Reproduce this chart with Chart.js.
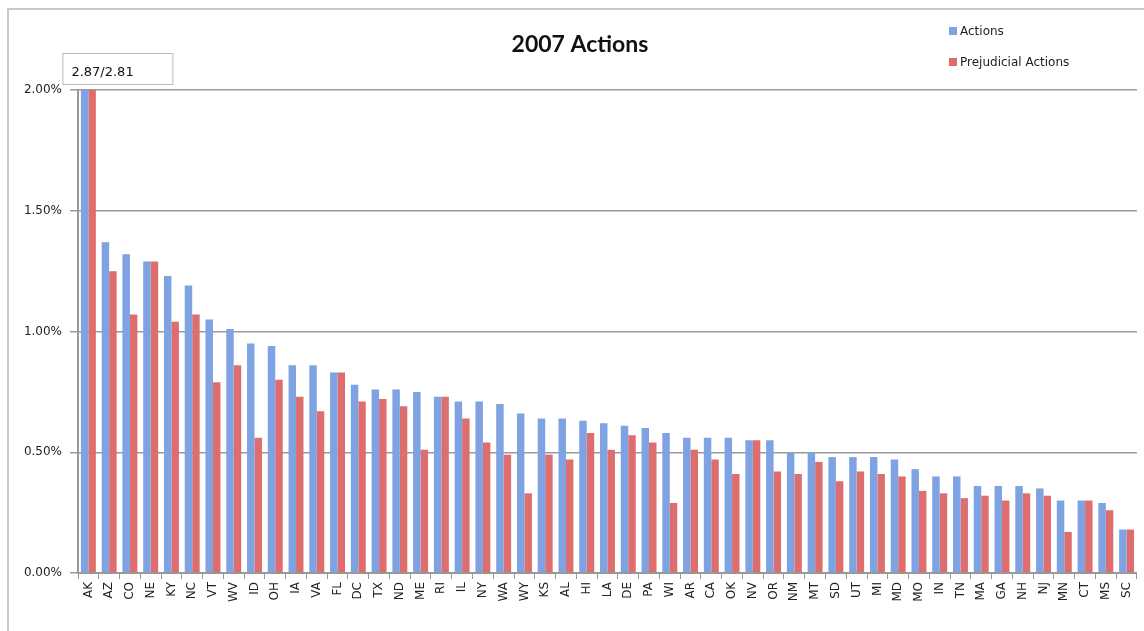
<!DOCTYPE html>
<html>
<head>
<meta charset="utf-8">
<script src="https://cdn.jsdelivr.net/npm/chart.js@4"></script>
<style>
  html, body { margin: 0; padding: 0; background: #fff; }
  #wrap { position: absolute; left: 7px; top: 8px; width: 1144px; height: 640px; border: 2px solid #c8c8c8; box-sizing: border-box; }
  #chart { position: absolute; left: 0; top: 0; }
</style>
</head>
<body>
<div id="wrap"></div>
<canvas id="chart" width="1144" height="631"></canvas>
<script>
const states = ['AK', 'AZ', 'CO', 'NE', 'KY', 'NC', 'VT', 'WV', 'ID', 'OH', 'IA', 'VA', 'FL', 'DC', 'TX', 'ND', 'ME',
    'RI', 'IL', 'NY', 'WA', 'WY', 'KS', 'AL', 'HI', 'LA', 'DE', 'PA', 'WI', 'AR', 'CA', 'OK', 'NV', 'OR', 'NM', 'MT',
    'SD', 'UT', 'MI', 'MD', 'MO', 'IN', 'TN', 'MA', 'GA', 'NH', 'NJ', 'MN', 'CT', 'MS', 'SC'];

const actions = [2.87, 1.37, 1.32, 1.29, 1.23, 1.19, 1.05, 1.01, 0.95, 0.94, 0.86, 0.86, 0.83, 0.78, 0.76, 0.76, 0.75,
    0.73, 0.71, 0.71, 0.70, 0.66, 0.64, 0.64, 0.63, 0.62, 0.61, 0.60, 0.58, 0.56, 0.56, 0.56, 0.55, 0.55, 0.50, 0.50,
    0.48, 0.48, 0.48, 0.47, 0.43, 0.40, 0.40, 0.36, 0.36, 0.36, 0.35, 0.30, 0.30, 0.29, 0.18];

const prejudicial = [2.81, 1.25, 1.07, 1.29, 1.04, 1.07, 0.79, 0.86, 0.56, 0.80, 0.73, 0.67, 0.83, 0.71, 0.72, 0.69, 0.51,
    0.73, 0.64, 0.54, 0.49, 0.33, 0.49, 0.47, 0.58, 0.51, 0.57, 0.54, 0.29, 0.51, 0.47, 0.41, 0.55, 0.42, 0.41, 0.46,
    0.38, 0.42, 0.41, 0.40, 0.34, 0.33, 0.31, 0.32, 0.30, 0.33, 0.32, 0.17, 0.30, 0.26, 0.18];

const yTicks = [0, 0.5, 1.0, 1.5, 2.0];

const chartTitle = '2007 Actions';

// title, legend and the clipped-value note for the first bar
const decorations = {
    id: 'decorations',
    afterDraw(chart) {
        const c = chart.ctx;
        c.save();
        c.fillStyle = '#111';
        c.font = 'bold 23px Lato, "Open Sans", sans-serif';
        c.textAlign = 'center';
        c.textBaseline = 'middle';
        c.fillText(chartTitle, 580, 45);

        c.font = '12px "DejaVu Sans", sans-serif';
        c.textAlign = 'left';
        chart.data.datasets.forEach((ds, i) => {
            const y = 32 + i * 31;
            c.fillStyle = ds.backgroundColor;
            c.fillRect(949, y - 5, 8, 8);
            c.fillStyle = '#222';
            c.fillText(ds.label, 960, y);
        });

        const x0 = chart.scales.x.getPixelForValue(0);
        const bx = x0 - 26, by = 53;
        c.fillStyle = '#fff';
        c.fillRect(bx, by, 110, 31);
        c.strokeStyle = '#bbb';
        c.lineWidth = 1;
        c.strokeRect(bx + 0.5, by + 0.5, 110, 31);
        c.fillStyle = '#111';
        c.font = '13px "DejaVu Sans", sans-serif';
        c.fillText(actions[0].toFixed(2) + '/' + prejudicial[0].toFixed(2), bx + 9, by + 20);
        c.restore();
    }
};

new Chart(document.getElementById('chart').getContext('2d'), {
    type: 'bar',
    data: {
        labels: states,
        datasets: [{
            label: 'Actions',
            data: actions,
            backgroundColor: '#7ea2e2',
            categoryPercentage: 0.72,
            barPercentage: 1.0
        }, {
            label: 'Prejudicial Actions',
            data: prejudicial,
            backgroundColor: '#de6e6e',
            categoryPercentage: 0.72,
            barPercentage: 1.0
        }]
    },
    options: {
        responsive: false,
        animation: false,
        layout: { padding: { top: 90, right: 1, left: 0, bottom: 0 } },
        plugins: {
            legend: { display: false },
            title: { display: false },
            tooltip: { enabled: false }
        },
        scales: {
            x: {
                grid: { drawOnChartArea: false, drawTicks: true, tickLength: 6, color: '#999', offset: true },
                border: { color: '#999', width: 2 },
                ticks: {
                    minRotation: 90, maxRotation: 90, autoSkip: false,
                    color: '#222', padding: 3,
                    font: { family: '"DejaVu Sans", sans-serif', size: 12 }
                },
                afterFit(scale) { scale.height = 58; }
            },
            y: {
                min: 0,
                max: 2,
                afterBuildTicks(scale) { scale.ticks = yTicks.map(v => ({ value: v })); },
                grid: { color: '#9a9a9a', lineWidth: 1.5, tickLength: 8 },
                border: { color: '#999', width: 2 },
                ticks: {
                    color: '#222', padding: 8,
                    font: { family: '"DejaVu Sans", sans-serif', size: 12 },
                    callback: v => v.toFixed(2) + '%'
                },
                afterFit(scale) { scale.width = 78; }
            }
        }
    },
    plugins: [decorations]
});
</script>
</body>
</html>
